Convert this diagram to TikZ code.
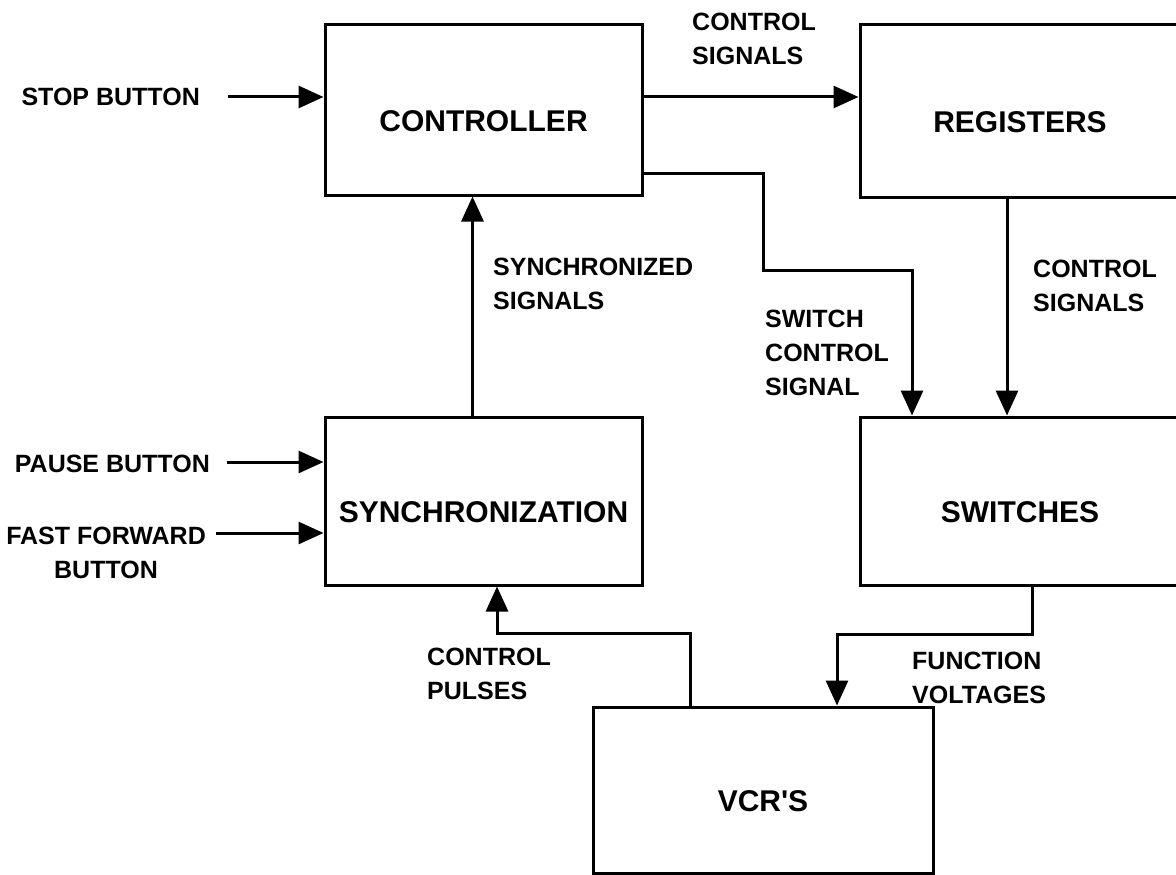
\documentclass[tikz,border=0pt]{standalone}
\usepackage{fontspec}
\setmainfont{Liberation Sans}
\usetikzlibrary{arrows.meta,positioning}
\tikzset{
  block/.style={draw,line width=3pt,minimum width=317pt,minimum height=170pt,
    inner sep=0pt,font=\fontsize{30}{36}\selectfont\bfseries,text height=42pt,text depth=0pt},
  sig/.style={line width=3pt,-{Triangle[length=25pt,width=22pt]}},
  siglabel/.style={inner sep=0pt,align=left,anchor=north west,
    font=\fontsize{25}{34}\selectfont\bfseries},
  inlabel/.style={siglabel,anchor=north east}
}

\begin{document}
\begin{tikzpicture}[x=1pt,y=-1pt]
\useasboundingbox (0,0) rectangle (1176,875);
\clip (0,0) rectangle (1176,875);
% blocks
\node[block] (ctrl) at (483.5,110) {CONTROLLER};
\node[block,minimum width=320pt,minimum height=172pt] (reg) at (1020,111) {REGISTERS};
\node[block,minimum height=168pt] (sync) at (483.5,501) {SYNCHRONIZATION};
\node[block,minimum width=320pt,minimum height=168pt] (sw) at (1020,501) {SWITCHES};
\node[block,minimum width=340pt,minimum height=166pt] (vcr) at (763,790) {VCR\textquotesingle S};
% inputs
\node[inlabel] (stop) at (200,88) {STOP BUTTON};
\node[inlabel] (pause) at (210,455) {PAUSE BUTTON};
\node[inlabel,align=center] (ff) at (206,527) {FAST FORWARD\\BUTTON};
\coordinate (stopin) at (228,97);
\coordinate (pausein) at (227,462);
\coordinate (ffin) at (216,533);
\draw[sig] (stopin) -- (ctrl.west |- stopin);
\draw[sig] (pausein) -- (sync.west |- pausein);
\draw[sig] (ffin) -- (sync.west |- ffin);
% signals
\coordinate (ctrlout) at ([yshift=13pt]ctrl.east);
\coordinate (ctrlsw) at ([yshift=-63pt]ctrl.east);
\draw[sig] (ctrlout) -- (ctrlout -| reg.west);
\draw[sig] ([xshift=-11pt]sync.north) -- ([xshift=-11pt]ctrl.south);
\draw[sig] (ctrlsw) -| (763,270) -| ([xshift=-108pt]sw.north);
\draw[sig] ([xshift=-13pt]reg.south) -- ([xshift=-13pt]sw.north);
\draw[sig] ([xshift=12pt]sw.south) |- (837,634) -- ([xshift=74pt]vcr.north);
\draw[sig] ([xshift=-73pt]vcr.north) |- (497,633) -- ([xshift=13.5pt]sync.south);
% labels
\node[siglabel] (csig) at (692,13) {CONTROL\\SIGNALS};
\node[siglabel] (ssig) at (493,258) {SYNCHRONIZED\\SIGNALS};
\node[siglabel] (swsig) at (765,310) {SWITCH\\CONTROL\\SIGNAL};
\node[siglabel] (rsig) at (1033,260) {CONTROL\\SIGNALS};
\node[siglabel] (pulse) at (427,648) {CONTROL\\PULSES};
\node[siglabel] (func) at (912,652) {FUNCTION\\VOLTAGES};
\end{tikzpicture}
\end{document}
